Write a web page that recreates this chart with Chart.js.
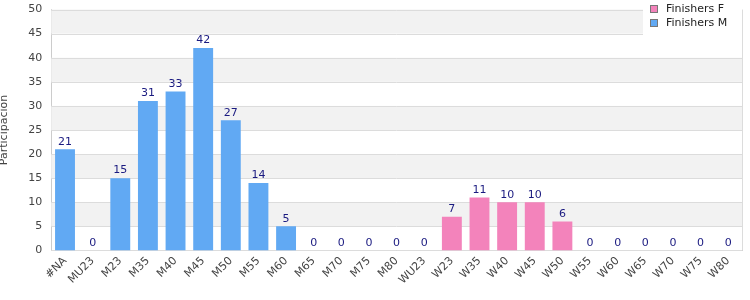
<!DOCTYPE html>
<html><head><meta charset="utf-8">
<script src="https://cdn.jsdelivr.net/npm/chart.js@4/dist/chart.umd.min.js"></script>
<style>html,body{margin:0;padding:0;background:#fff}#wrap{width:750px;height:300px}</style>
</head><body><div id="wrap"><canvas id="c"></canvas></div>
<script>
const categories = ['#NA','MU23','M23','M35','M40','M45','M50','M55','M60','M65','M70','M75','M80','WU23','W23','W35','W40','W45','W50','W55','W60','W65','W70','W75','W80'];
const finishersF = [null,null,null,null,null,null,null,null,null,null,null,null,null,0,7,11,10,10,6,0,0,0,0,0,0];
const finishersM = [21,0,15,31,33,42,27,14,5,0,0,0,0,null,null,null,null,null,null,null,null,null,null,null,null];
const yTicks = [0,5,10,15,20,25,30,35,40,45,50];
const seriesNames = ['Finishers F','Finishers M'];
const colorF = '#f383bb';
const colorM = '#61a9f3';
const FONT = '"DejaVu Sans", sans-serif';

const bands = {
  id:'bands',
  beforeDatasetsDraw(chart){
    const {ctx, chartArea:a, scales:{y}} = chart;
    ctx.save();
    ctx.fillStyle = '#f2f2f2';
    for (let v = 5; v < 50; v += 10) {
      const t = y.getPixelForValue(v+5), b = y.getPixelForValue(v);
      ctx.fillRect(a.left, t, a.right-a.left, b-t);
    }
    ctx.strokeStyle = '#dcdcdc'; ctx.lineWidth = 1;
    yTicks.forEach(v=>{const p=Math.round(y.getPixelForValue(v))+0.5;ctx.beginPath();ctx.moveTo(a.left,p);ctx.lineTo(a.right,p);ctx.stroke();});
    ctx.beginPath();ctx.moveTo(Math.round(a.right)+0.5,a.top);ctx.lineTo(Math.round(a.right)+0.5,a.bottom);ctx.stroke();
    ctx.restore();
  }
};
const labels = {
  id:'labels',
  afterDatasetsDraw(chart){
    const {ctx} = chart;
    ctx.save();
    ctx.font = '11px ' + FONT; ctx.fillStyle = '#1a1a80';
    ctx.textAlign='center'; ctx.textBaseline='bottom';
    chart.data.datasets.forEach((ds,di)=>{
      const meta = chart.getDatasetMeta(di);
      ds.data.forEach((v,i)=>{
        if (v===null) return;
        const el = meta.data[i];
        ctx.fillText(String(v), el.x, el.y - 2);
      });
    });
    ctx.restore();
  }
};
const legendBox = {
  id:'legendBox',
  afterDraw(chart){
    const {ctx, chartArea:a} = chart;
    ctx.save();
    const x0 = 643, y0 = 0, w = a.right - x0, h = 35;
    ctx.fillStyle = '#fff'; ctx.fillRect(x0, y0, w, h);
    ctx.font = '11px ' + FONT; ctx.textBaseline='middle'; ctx.textAlign='left';
    [[colorF,seriesNames[0],9],[colorM,seriesNames[1],23]].forEach(([c,t,yy])=>{
      ctx.fillStyle = c; ctx.fillRect(x0+7, yy-4, 8, 8);
      ctx.strokeStyle = '#777'; ctx.lineWidth=1; ctx.strokeRect(x0+7.5, yy-3.5, 7, 7);
      ctx.fillStyle = '#222'; ctx.fillText(t, x0+23, yy);
    });
    ctx.restore();
  }
};

new Chart(document.getElementById('c'), {
  type:'bar',
  data:{labels:categories, datasets:[
    {label:seriesNames[0], data:finishersF, backgroundColor:colorF, stack:'s', barPercentage:0.9, categoryPercentage:0.8},
    {label:seriesNames[1], data:finishersM, backgroundColor:colorM, stack:'s', barPercentage:0.9, categoryPercentage:0.8}
  ]},
  options:{
    responsive:true, maintainAspectRatio:false, animation:false,
    layout:{padding:{top:0,right:8,left:0,bottom:9}},
    plugins:{legend:{display:false}, tooltip:{enabled:false}},
    scales:{
      x:{stacked:true, grid:{display:false, drawTicks:false}, border:{color:'#ccc'},
         ticks:{font:{family:FONT,size:11}, color:'#444', minRotation:45, maxRotation:45, padding:4}},
      y:{stacked:true, min:0, max:50, grid:{display:false, drawTicks:false}, border:{color:'#ccc'},
         afterBuildTicks(ax){ax.ticks = yTicks.map(v=>({value:v}));},
         ticks:{font:{family:FONT,size:11,lineHeight:0.1}, color:'#444', padding:9},
         title:{display:true, text:'Participacion', font:{family:FONT,size:11,lineHeight:0.7}, color:'#444', padding:{top:0,bottom:11.5}}}
    }
  },
  plugins:[bands, labels, legendBox]
});
</script></body></html>
